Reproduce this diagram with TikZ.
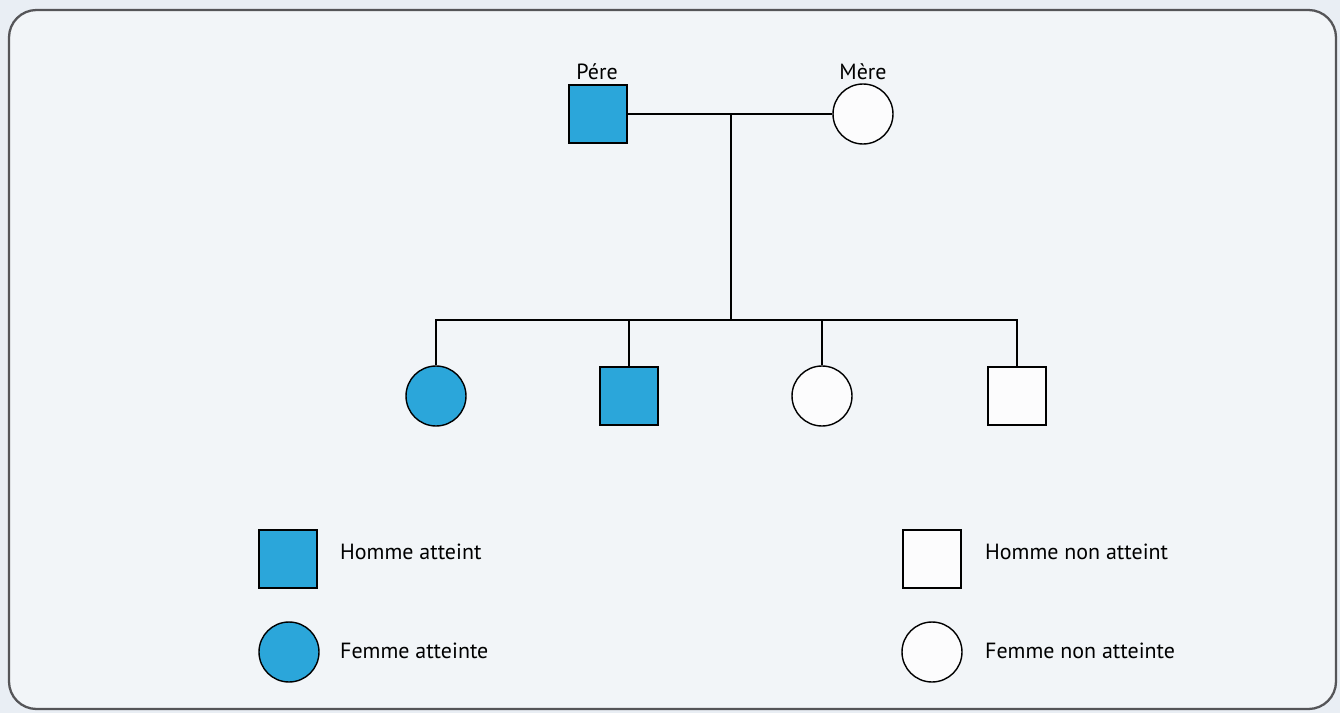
\documentclass[tikz,border=0pt]{standalone}
\usepackage{fontspec}
\setmainfont{PT Sans}
\definecolor{atteint}{RGB}{43,166,218}
\definecolor{fond}{RGB}{233,238,244}
\definecolor{cadre}{RGB}{85,85,88}
\tikzset{
  homme/.style={draw=black, line width=0.8pt, rectangle, minimum size=1.16cm, inner sep=0pt, fill=white!85!fond},
  femme/.style={draw=black, line width=0.8pt, circle, minimum size=1.2cm, inner sep=0pt, fill=white!85!fond},
  malade/.style={fill=atteint},
  lien/.style={line width=0.8pt},
  legende/.style={anchor=west, font=\fontsize{12.5}{15}\selectfont}
}
\begin{document}
\begin{tikzpicture}[x=0.02cm, y=-0.02cm]
    \useasboundingbox (0,0) rectangle (1340,713);
    \fill[fond] (0,0) rectangle (1340,713);
    \draw[cadre, line width=1.3pt, rounded corners=0.55cm, fill=fond!60!white] (9,10) rectangle (1336,709);

    % parents
    \node[homme, malade] (pere) at (598,114) {};
    \node[femme] (mere) at (863,114) {};
    \node[font=\fontsize{12.5}{15}\selectfont] (lpere) at (597,72) {Pére};
    \node[font=\fontsize{12.5}{15}\selectfont] (lmere) at (863,72) {Mère};

    % enfants
    \node[femme, malade] (fille1) at (436,396) {};
    \node[homme, malade] (fils1) at (629,396) {};
    \node[femme] (fille2) at (822,396) {};
    \node[homme] (fils2) at (1017,396) {};

    \coordinate (union) at (731,114);
    \coordinate (fratrie) at (731,320);
    \draw[lien] (pere.east) -- (mere.west);
    \draw[lien] (union) -- (fratrie);
    \draw[lien] (fille1.north) |- (fratrie) -| (fils2.north);
    \draw[lien] (fils1.north) -- (fils1.north |- fratrie);
    \draw[lien] (fille2.north) -- (fille2.north |- fratrie);

    % legende
    \node[homme, malade] (lhm) at (288,559) {};
    \node[femme, malade] (lfm) at (289,652) {};
    \node[homme] (lhs) at (932,559) {};
    \node[femme] (lfs) at (932,652) {};
    \node[legende] (thm) at (334,552) {Homme atteint};
    \node[legende] (tfm) at (334,651) {Femme atteinte};
    \node[legende] (ths) at (979,552) {Homme non atteint};
    \node[legende] (tfs) at (979,651) {Femme non atteinte};
\end{tikzpicture}
\end{document}
